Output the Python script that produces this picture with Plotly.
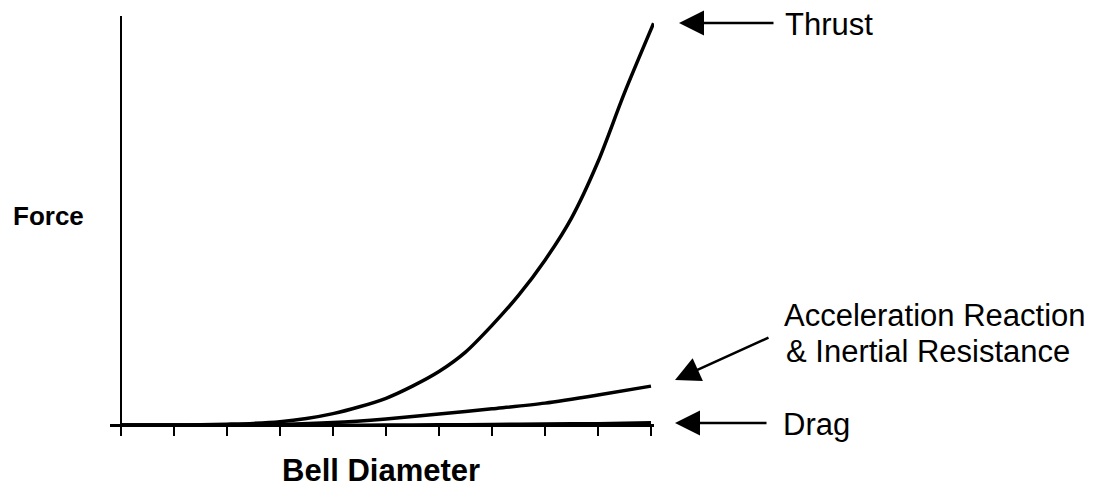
import plotly.graph_objects as go

# Data (arbitrary force units)
diameter = [0, 0.5, 1, 1.5, 2, 2.5, 3, 3.5, 4, 4.5, 5, 5.5, 6, 6.5, 7, 7.5, 8, 8.5, 9, 9.5, 10.05]
thrust = [0, 0, 0, 0.05, 0.2, 0.4, 0.8, 1.6, 2.8, 4.5, 6.6, 9.6, 13.2, 18.0, 24.6, 32.0,
          40.7, 51.1, 65.0, 82.0, 99.2]

diameter_b = [0, 1, 2, 3, 4, 5, 6, 7, 8, 9, 10]
accel = [0, 0, 0, 0.15, 0.6, 1.5, 2.7, 4.0, 5.4, 7.4, 9.6]
drag = [0, 0, 0, 0, 0, 0.05, 0.1, 0.2, 0.3, 0.4, 0.6]

tick_vals = [0, 1, 2, 3, 4, 5, 6, 7, 8, 9, 10]

labels = {
    "thrust": "Thrust",
    "accel1": "Acceleration Reaction",
    "accel2": "& Inertial Resistance",
    "drag": "Drag",
    "x": "Bell Diameter",
    "y": "Force",
}

FONT = "Liberation Sans, Arial, sans-serif"

fig = go.Figure()
fig.add_trace(go.Scatter(x=diameter, y=thrust, mode="lines",
                         line=dict(color="black", width=3.5, shape="spline", smoothing=0.8),
                         showlegend=False, hoverinfo="skip"))
fig.add_trace(go.Scatter(x=diameter_b, y=accel, mode="lines",
                         line=dict(color="black", width=3.5, shape="spline", smoothing=0.8),
                         showlegend=False, hoverinfo="skip"))
fig.add_trace(go.Scatter(x=diameter_b, y=drag, mode="lines",
                         line=dict(color="black", width=3, shape="spline", smoothing=0.8),
                         showlegend=False, hoverinfo="skip"))

L, R, T, B = 110, 654, 16, 436
W, H = R - L, B - T


def px(xp):
    return (xp - L) / W


def py(yp):
    return (B - yp) / H


annotations = [
    dict(text=labels["thrust"], x=px(783), y=py(24), xanchor="left", yanchor="middle",
         font=dict(size=31)),
    dict(text=labels["accel1"], x=px(782), y=py(315), xanchor="left", yanchor="middle",
         font=dict(size=31)),
    dict(text=labels["accel2"], x=px(784), y=py(351), xanchor="left", yanchor="middle",
         font=dict(size=31)),
    dict(text=labels["drag"], x=px(781), y=py(424), xanchor="left", yanchor="middle",
         font=dict(size=31)),
    dict(text="<b>" + labels["x"] + "</b>", x=px(381), y=py(471), xanchor="center",
         yanchor="middle", font=dict(size=31)),
    dict(text="<b>" + labels["y"] + "</b>", x=px(48), y=py(216), xanchor="center",
         yanchor="middle", font=dict(size=26)),
]
for a in annotations:
    a["showarrow"] = False

arrow_style = dict(text="", showarrow=True, arrowhead=2, arrowsize=2.0, arrowwidth=2.5,
                   arrowcolor="black", axref="pixel", ayref="pixel")
annotations += [
    dict(x=px(679), y=py(23), ax=96, ay=0, **arrow_style),
    dict(x=px(675), y=py(380), ax=95, ay=-43, **arrow_style),
    dict(x=px(675), y=py(423), ax=93, ay=0, **arrow_style),
]
for a in annotations:
    a.setdefault("xref", "paper")
    a.setdefault("yref", "paper")

fig.update_layout(
    width=1101, height=493,
    margin=dict(l=L, r=1101 - R, t=T, b=493 - B, pad=0),
    paper_bgcolor="white", plot_bgcolor="white",
    font=dict(family=FONT, color="black"),
    annotations=annotations,
    xaxis=dict(range=[-0.2075, 10.057], showgrid=False, showline=False,
               zeroline=True, zerolinecolor="black", zerolinewidth=2,
               ticks="inside", ticklen=11, tickwidth=1.5, tickcolor="black",
               tickvals=tick_vals, showticklabels=False, fixedrange=True),
    yaxis=dict(range=[-2.716, 100.99], showgrid=False, showline=False,
               zeroline=True, zerolinecolor="black", zerolinewidth=2.5,
               ticks="", showticklabels=False, fixedrange=True),
)

fig.write_html("out.html", config={"displayModeBar": False},
               post_script="document.body.style.margin='0';document.body.style.overflow='hidden';")
